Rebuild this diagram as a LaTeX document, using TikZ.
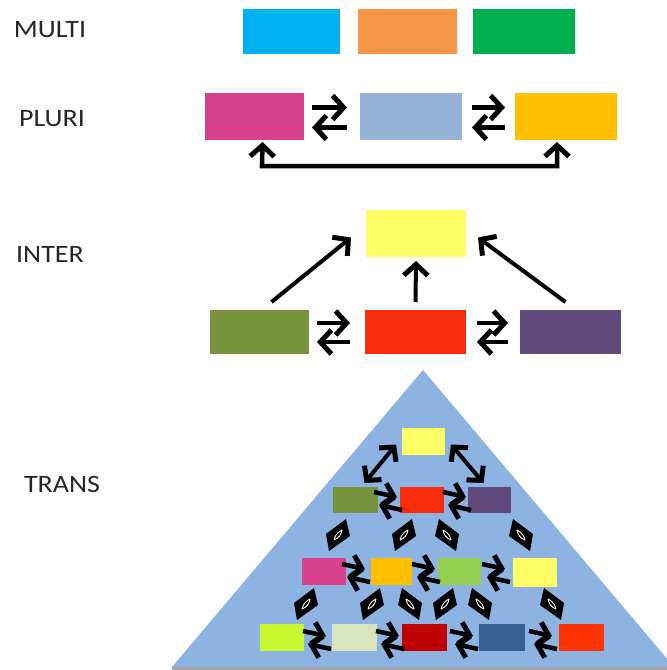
\documentclass[tikz,border=0pt]{standalone}
\usepackage{fontspec}
\setmainfont{Carlito}
\usetikzlibrary{arrows.meta,calc}
\definecolor{cBlue}{HTML}{00B0F0}
\definecolor{cOrange}{HTML}{F79646}
\definecolor{cGreen}{HTML}{00B050}
\definecolor{cPink}{HTML}{D9418F}
\definecolor{cGreyBlue}{HTML}{95B3D7}
\definecolor{cGold}{HTML}{FFC000}
\definecolor{cLYellow}{HTML}{FFFF66}
\definecolor{cOlive}{HTML}{77933C}
\definecolor{cRed}{HTML}{F82B0B}
\definecolor{cPurple}{HTML}{604A7B}
\definecolor{cTri}{HTML}{8DB3E2}
\definecolor{cLGreen}{HTML}{92D050}
\definecolor{cLime}{HTML}{C8F82E}
\definecolor{cBeige}{HTML}{D7E4BD}
\definecolor{cDRed}{HTML}{C00000}
\definecolor{cDBlue}{HTML}{376092}
\definecolor{cORed}{HTML}{FF3300}
\definecolor{cText}{HTML}{262626}
\tikzset{
  box/.style={inner sep=0pt, outer sep=0pt, draw=none},
  lbl/.style={font=\fontsize{25}{27}\selectfont, text=cText, inner sep=0pt, xscale=1.12},
  tipb/.tip={Straight Barb[length=11pt,width=24pt,line width=5pt]},
  tips/.tip={Straight Barb[length=10pt,width=22pt,line width=5pt]},
  bigarr/.style={line width=4.5pt, -tipb},
  smallarr/.style={line width=4.5pt, -tips},
}
\newcommand\bx[6]{\node[box, fill=#6, minimum width={(#4-#2)*1pt}, minimum height={(#5-#3)*1pt}] (#1) at ({(#2+#4)/2},{(#3+#5)/2}) {};}
% small stacked double arrow glyph
\newcommand\dblglyph[2]{%
  \begin{scope}[shift={(#1,#2)}]
    \draw[smallarr] (-14,-9) -- (9,-4);
    \draw[smallarr] (14,9) -- (-9,4);
  \end{scope}}
% diamond glyph, #3 = 1 or -1 for lean
\newcommand\diam[3]{%
  \begin{scope}[shift={(#1,#2)}, xscale=#3]
    \fill[black] (8,-16) -- (12,1) -- (-9,16) -- (-12,-1) -- cycle;
    \draw[white, line width=0.9pt] (-4,5) .. controls (-2,-3) and (3,-4) .. (4,-5);
    \draw[white, line width=0.9pt] (-4,5) .. controls (1,3) and (3,0) .. (4,-5);
  \end{scope}}
\begin{document}
\begin{tikzpicture}[x=1pt,y=-1pt]
\path[use as bounding box, fill=white] (0,0) rectangle (667,670);

% labels
\node[lbl] (lmulti) at (50,30) {MULTI};
\node[lbl] (lpluri) at (52,119) {PLURI};
\node[lbl] (linter) at (50,254) {INTER};
\node[lbl] (ltrans) at (62,484) {TRANS};

% MULTI
\bx{m1}{243}{9}{340}{54}{cBlue}
\bx{m2}{358}{9}{457}{54}{cOrange}
\bx{m3}{473}{9}{575}{54}{cGreen}

% PLURI
\bx{p1}{205}{93}{304}{140}{cPink}
\bx{p2}{360}{93}{462}{140}{cGreyBlue}
\bx{p3}{515}{93}{617}{140}{cGold}
\draw[bigarr] ($(p1.east)+(8,-9)$) -- ($(p2.west)+(-13,-9)$);
\draw[bigarr] ($(p2.west)+(-13,11)$) -- ($(p1.east)+(8,11)$);
\draw[bigarr] ($(p2.east)+(10,-9)$) -- ($(p3.west)+(-10,-9)$);
\draw[bigarr] ($(p3.west)+(-10,11)$) -- ($(p2.east)+(10,11)$);
\coordinate (pl) at (262,166);
\coordinate (pr) at (557,166);
\draw[line width=4.5pt, tipb-tipb]
  ($(p1.south)+(8,2)$) -- (pl) -- (pr) -- ($(p3.south)+(-9,2)$);

% INTER
\bx{i0}{366}{210}{466}{257}{cLYellow}
\bx{i1}{210}{310}{309}{354}{cOlive}
\bx{i2}{365}{310}{466}{354}{cRed}
\bx{i3}{520}{310}{621}{354}{cPurple}
\draw[bigarr, line width=4pt] ($(i1.north)+(12,-8)$) -- ($(i0.west)+(-15,4)$);
\draw[bigarr, line width=4pt] ($(i2.north)+(0,-8)$) -- ($(i0.south)+(0,4)$);
\draw[bigarr, line width=4pt] ($(i3.north)+(-5,-8)$) -- ($(i0.east)+(12,4)$);
\draw[bigarr] ($(i1.east)+(8,-9)$) -- ($(i2.west)+(-15,-9)$);
\draw[bigarr] ($(i2.west)+(-15,10)$) -- ($(i1.east)+(8,10)$);
\draw[bigarr] ($(i2.east)+(11,-9)$) -- ($(i3.west)+(-12,-9)$);
\draw[bigarr] ($(i3.west)+(-12,10)$) -- ($(i2.east)+(11,10)$);

% TRANS triangle
\begin{scope}
  \clip (0,0) rectangle (667,670);
  \fill[gray!70] (172,666) rectangle (680,670);
  \fill[cTri] (423,370) -- (674,667) -- (172,667) -- cycle;
\end{scope}

% row 1
\bx{t1}{402}{428}{445}{455}{cLYellow}
% row 2
\bx{t21}{333}{487}{378}{513}{cOlive}
\bx{t22}{400}{487}{444}{513}{cRed}
\bx{t23}{468}{487}{511}{513}{cPurple}
\draw[line width=4pt, tips-tips]
  ($(t21.north)+(9,-4)$) -- ($(t1.west)+(-6,3)$);
\draw[line width=4pt, tips-tips]
  ($(t1.east)+(6,3)$) -- ($(t23.north)+(-6,-4)$);
\dblglyph{388}{501}
\dblglyph{457}{501}

% diamonds row A
\diam{338}{535}{1}
\diam{404}{535}{1}
\diam{447}{535}{-1}
\diam{521}{535}{-1}

% row 3
\bx{t31}{302}{558}{346}{585}{cPink}
\bx{t32}{371}{558}{412}{585}{cGold}
\bx{t33}{438}{558}{481}{585}{cLGreen}
\bx{t34}{513}{558}{557}{587}{cLYellow}
\dblglyph{356}{573}
\dblglyph{426}{573}
\dblglyph{496}{573}

% diamonds row B
\diam{306}{604}{1}
\diam{372}{604}{1}
\diam{410}{604}{-1}
\diam{445}{604}{1}
\diam{480}{604}{-1}
\diam{552}{604}{-1}

% row 4
\bx{t41}{260}{624}{304}{651}{cLime}
\bx{t42}{332}{624}{377}{651}{cBeige}
\bx{t43}{402}{624}{447}{651}{cDRed}
\bx{t44}{479}{624}{525}{651}{cDBlue}
\bx{t45}{559}{624}{604}{651}{cORed}
\dblglyph{317}{640}
\dblglyph{390}{640}
\dblglyph{464}{640}
\dblglyph{543}{640}
\end{tikzpicture}
\end{document}
